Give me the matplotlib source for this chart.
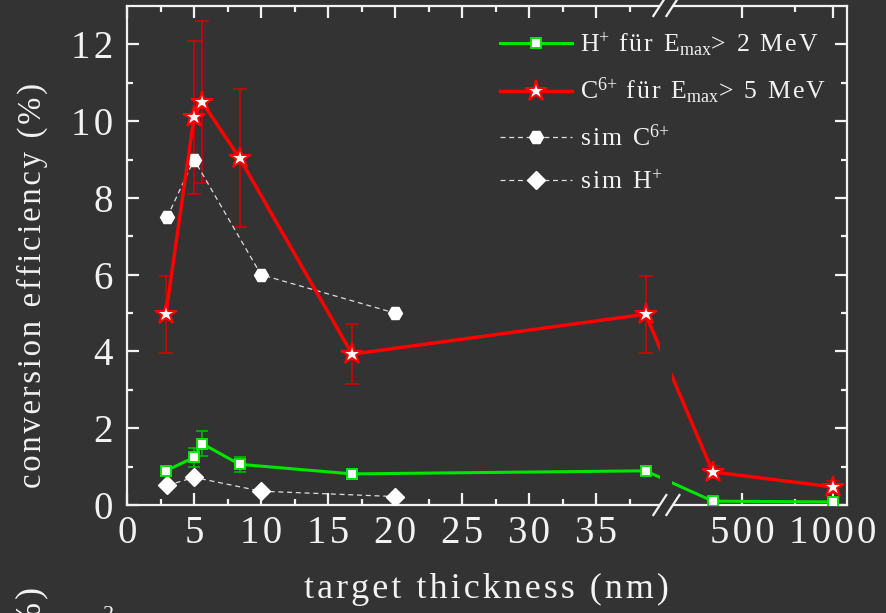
import numpy as np
import matplotlib
matplotlib.use('Agg')
import matplotlib.pyplot as plt
from matplotlib.patches import Rectangle
from matplotlib.lines import Line2D
import matplotlib.transforms as mtransforms

# ---------------- data ----------------
thick_exp = [2.9, 5.0, 5.6, 8.4, 16.8, 38.7, 400, 1000]
h_eff = [0.89, 1.24, 1.60, 1.06, 0.81, 0.89, 0.10, 0.08]
h_err = [0.10, 0.25, 0.32, 0.20, 0.14, 0.12, 0.05, 0.05]
c_eff = [4.97, 10.1, 10.5, 9.04, 3.93, 4.97, 0.86, 0.47]
c_err = [1.0, 2.0, 2.1, 1.8, 0.79, 1.0, 0.15, 0.15]
thick_sim = [3.0, 5.0, 10.0, 20.0]
sim_c = [7.5, 9.0, 6.0, 5.0]
sim_h = [0.51, 0.72, 0.36, 0.22]

x_major = [0, 5, 10, 15, 20, 25, 30, 35, 500, 1000]
x_labels = ['0', '5', '10', '15', '20', '25', '30', '35', '500', '1000']
x_minor = [2.5, 7.5, 12.5, 17.5, 22.5, 27.5, 32.5, 37.5, 750]
y_major = [0, 2, 4, 6, 8, 10, 12]
y_labels = ['0', '2', '4', '6', '8', '10', '12']
y_minor = [1, 3, 5, 7, 9, 11]

labels = ['H$^{+}$ für E$_{\\mathrm{max}}$> 2 MeV',
          'C$^{6{+}}$ für E$_{\\mathrm{max}}$> 5 MeV',
          'sim C$^{6{+}}$',
          'sim H$^{+}$']
xlabel = 'target thickness (nm)'
ylabel = 'conversion efficiency (%)'

HS = '\u200a'


def track(s):
    """insert hair spaces between characters outside math segments"""
    parts = s.split('$')
    out = []
    for i, p in enumerate(parts):
        if i % 2 == 0:
            out.append(HS.join(p))
        else:
            out.append('$' + p + '$')
    return ''.join(out)


# ---------------- broken-axis scale ----------------
BRK_L = 39.8      # end of linear part
POS_R = 40.7      # start position of log part
P500 = 45.9
PDEC = 22.55
POS_MAX = 53.73
XR = 500 * 10 ** ((POS_R - P500) / PDEC)


def fwd(x):
    x = np.asarray(x, float)
    with np.errstate(all='ignore'):
        right = P500 + PDEC * np.log10(np.maximum(x, 1e-9) / 500.0)
        mid = BRK_L + (x - BRK_L) / (XR - BRK_L) * (POS_R - BRK_L)
    return np.where(x <= BRK_L, x, np.where(x < XR, mid, right))


def inv(p):
    p = np.asarray(p, float)
    with np.errstate(all='ignore'):
        right = 500.0 * 10 ** ((np.clip(p, -100, 100) - P500) / PDEC)
        mid = BRK_L + (p - BRK_L) / (POS_R - BRK_L) * (XR - BRK_L)
    return np.where(p <= BRK_L, p, np.where(p < POS_R, mid, right))


BG = '#333333'
FG = '#f2f2f2'
RED = '#ff0000'
GREEN = '#00e600'

plt.rcParams['font.family'] = ['Liberation Serif', 'DejaVu Serif']
plt.rcParams['mathtext.fontset'] = 'custom'
plt.rcParams['mathtext.rm'] = 'Liberation Serif'
plt.rcParams['mathtext.it'] = 'Liberation Serif:italic'
plt.rcParams['mathtext.bf'] = 'Liberation Serif:bold'

fig = plt.figure(figsize=(8.87, 6.13), dpi=100, facecolor=BG)
W, H = 887, 613
ax = fig.add_axes([127 / W, 1 - 505 / H, 720 / W, 499 / H], facecolor=BG)
ax.set_xscale('function', functions=(fwd, inv))
ax.set_xlim(0, float(inv(POS_MAX)))
ax.set_ylim(0, 13)

# simulations
l_sc, = ax.plot(thick_sim, sim_c, ls=(0, (4, 3)), lw=0.9, color='#dddddd',
                marker='H', ms=10, mfc='white', mec='white', zorder=3)
l_sh, = ax.plot(thick_sim, sim_h, ls=(0, (4, 3)), lw=0.9, color='#dddddd',
                marker='D', ms=9, mfc='white', mec='white', zorder=3)

# error bars
ax.errorbar(thick_exp, c_eff, yerr=c_err, fmt='none', ecolor='#e00000',
            elinewidth=1.1, capsize=4.7, capthick=1.1, zorder=2.5)
ax.errorbar(thick_exp, h_eff, yerr=h_err, fmt='none', ecolor='#00c000',
            elinewidth=1.1, capsize=4.0, capthick=1.1, zorder=2.5)

# experiment
l_h, = ax.plot(thick_exp, h_eff, '-', color=GREEN, lw=2.2, marker='s', ms=7.5,
               mfc='white', mec=GREEN, mew=1.4, zorder=4)
l_c, = ax.plot(thick_exp, c_eff, '-', color=RED, lw=2.5, marker='*', ms=16,
               mfc='white', mec=RED, mew=1.5, zorder=4)

# ticks
ax.set_xticks(x_major)
ax.set_xticklabels([track(t) for t in x_labels])
ax.set_xticks(x_minor, minor=True)
ax.set_yticks(y_major)
ax.set_yticklabels([track(t) for t in y_labels])
ax.set_yticks(y_minor, minor=True)
ax.tick_params(which='both', direction='in', top=True, right=True,
               color=FG, width=1.6, labelcolor=FG, labelsize=28)
ax.tick_params(which='major', length=8.5)
ax.tick_params(which='minor', length=4.5)
ax.tick_params(axis='y', pad=10)
ax.tick_params(axis='x', pad=7)
for s in ax.spines.values():
    s.set_color(FG)
    s.set_linewidth(1.6)

# break gap
blend = mtransforms.blended_transform_factory(ax.transData, ax.transAxes)
ax.add_patch(Rectangle((BRK_L, -0.01), XR - BRK_L, 1.02, transform=blend,
                       facecolor=BG, edgecolor='none', zorder=5, clip_on=False))
fl = BRK_L / POS_MAX
fr = POS_R / POS_MAX
dxa = 6.5 / 720
dya = 10 / 499
for yc in (0.0, 1.0):
    for fc in (fl - 0.5 / 720, fr + 0.5 / 720):
        ax.add_line(Line2D([fc - dxa, fc + dxa], [yc - dya, yc + dya],
                           transform=ax.transAxes, color=FG, lw=1.6,
                           clip_on=False, zorder=6))

# legend
leg = ax.legend([l_h, l_c, l_sc, l_sh], [track(t) for t in labels],
                loc='upper right', frameon=False, fontsize=18.5,
                labelcolor=FG, handlelength=2.8, handletextpad=0.3,
                borderaxespad=0.0, borderpad=0.0, labelspacing=0.72,
                bbox_to_anchor=((826 - 127) / 720, (505 - 30) / 499))

# axis labels
fig.text(32 / W, 1 - 285 / H, track(ylabel), rotation=90,
         ha='center', va='center', color=FG, fontsize=23.5)
fig.text(486 / W, 1 - 589 / H, track(xlabel), ha='center',
         va='center', color=FG, fontsize=26)
# fragments of the chart below (cut off in the original as well)
fig.text(32 / W, 1 - 587 / H, track('(%)'), rotation=90, ha='center',
         va='top', color=FG, fontsize=26)
fig.text(109 / W, 1 - 606 / H, '2', ha='center', va='top',
         color=FG, fontsize=16)

fig.savefig('out.png', dpi=100, facecolor=BG)
